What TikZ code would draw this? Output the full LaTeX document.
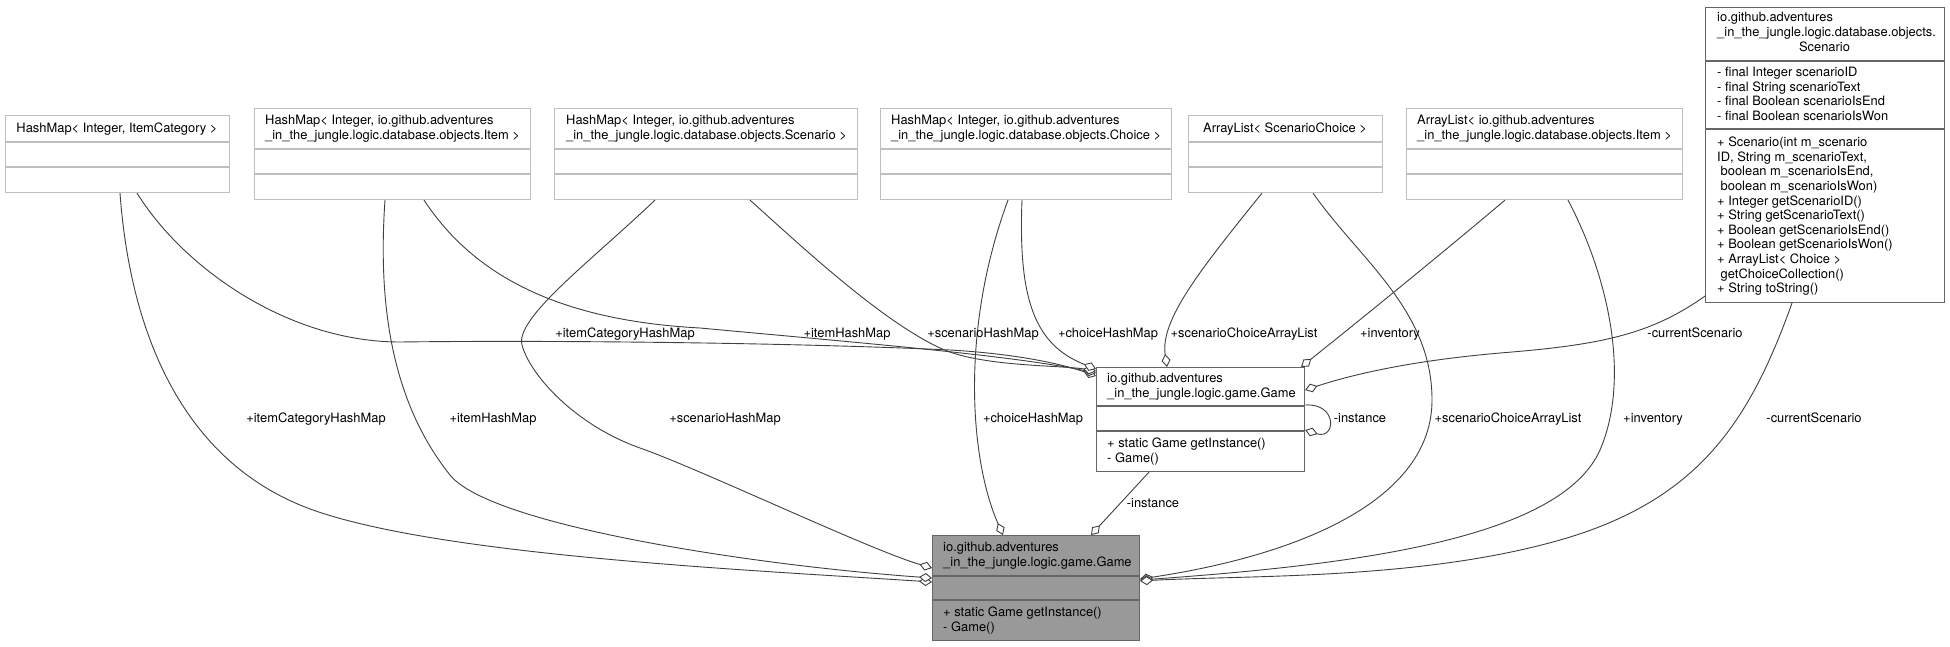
\documentclass[tikz,border=0pt]{standalone}
\usepackage{fontspec}
\setmainfont{TeX Gyre Heros}
\usetikzlibrary{arrows.meta,calc}
\definecolor{boxlight}{HTML}{BFBFBF}
\definecolor{boxdark}{HTML}{666666}
\definecolor{gamegray}{HTML}{999999}
\definecolor{edgecol}{HTML}{404040}
\newcommand{\fs}{\fontsize{12.9}{14.6}\selectfont}
\begin{document}
\begin{tikzpicture}[x=1pt,y=-1pt,
  lbox/.style={draw=boxlight, line width=1.1pt, fill=white, inner sep=0pt, anchor=north west},
  dbox/.style={draw=boxdark, line width=1.1pt, fill=white, inner sep=0pt, anchor=north west},
  gbox/.style={draw=boxdark, line width=1.1pt, fill=gamegray, inner sep=0pt, anchor=north west},
  sepl/.style={draw=boxlight, line width=1.1pt},
  sepd/.style={draw=boxdark, line width=1.1pt},
  txt/.style={font=\fs, inner sep=0pt, align=left, anchor=north west},
  btxt/.style={font=\fs, inner sep=0pt, anchor=base},
  lab/.style={font=\fs, inner sep=0pt, anchor=base},
  edge/.style={draw=edgecol, line width=0.9pt, -{Diamond[length=13pt,width=9pt,fill=white,line width=0.9pt]}},
]
\fill[white] (0,0) rectangle (1950,647);
\useasboundingbox (0,0) rectangle (1950,647);

% ---------- boxes ----------
\node[lbox, minimum width=224pt, minimum height=77pt] (A) at (5,115) {};
\draw[sepl] (5,142) -- (229,142);
\draw[sepl] (5,167) -- (229,167);
\node[btxt] (Ah) at (117,133) {HashMap< Integer, ItemCategory >};

\node[lbox, minimum width=276pt, minimum height=91pt] (B) at (254,108) {};
\draw[sepl] (254,149) -- (530,149);
\draw[sepl] (254,174) -- (530,174);
\node[txt] (Bh) at (265,114.3) {\strut HashMap< Integer, io.github.adventures\\\strut\_in\_the\_jungle.logic.database.objects.Item >};

\node[lbox, minimum width=303pt, minimum height=91pt] (C) at (554,108) {};
\draw[sepl] (554,149) -- (857,149);
\draw[sepl] (554,174) -- (857,174);
\node[txt] (Ch) at (566,114.3) {\strut HashMap< Integer, io.github.adventures\\\strut\_in\_the\_jungle.logic.database.objects.Scenario >};

\node[lbox, minimum width=291pt, minimum height=91pt] (D) at (880,108) {};
\draw[sepl] (880,149) -- (1171,149);
\draw[sepl] (880,174) -- (1171,174);
\node[txt] (Dh) at (891,114.3) {\strut HashMap< Integer, io.github.adventures\\\strut\_in\_the\_jungle.logic.database.objects.Choice >};

\node[lbox, minimum width=194pt, minimum height=77pt] (E) at (1188,115) {};
\draw[sepl] (1188,142) -- (1382,142);
\draw[sepl] (1188,167) -- (1382,167);
\node[btxt] (Eh) at (1285,133) {ArrayList< ScenarioChoice >};

\node[lbox, minimum width=276pt, minimum height=91pt] (F) at (1406,108) {};
\draw[sepl] (1406,149) -- (1682,149);
\draw[sepl] (1406,174) -- (1682,174);
\node[txt] (Fh) at (1417,114.3) {\strut ArrayList< io.github.adventures\\\strut\_in\_the\_jungle.logic.database.objects.Item >};

\node[dbox, minimum width=239pt, minimum height=295pt] (G) at (1705,7) {};
\draw[sepd] (1705,61) -- (1944,61);
\draw[sepd] (1705,129) -- (1944,129);
\node[txt] (Gh) at (1717,11.3) {\strut io.github.adventures\\\strut\_in\_the\_jungle.logic.database.objects.};
\node[btxt] (Gh3) at (1824.5,51.5) {Scenario};
\node[txt] (Ga) at (1717,66.3) {\strut - final Integer scenarioID\\\strut - final String scenarioText\\\strut - final Boolean scenarioIsEnd\\\strut - final Boolean scenarioIsWon};
\node[txt] (Gm) at (1717,136.3) {\strut + Scenario(int m\_scenario\\\strut ID, String m\_scenarioText,\\\strut\hspace*{3.5pt}boolean m\_scenarioIsEnd,\\\strut\hspace*{3.5pt}boolean m\_scenarioIsWon)\\\strut + Integer getScenarioID()\\\strut + String getScenarioText()\\\strut + Boolean getScenarioIsEnd()\\\strut + Boolean getScenarioIsWon()\\\strut + ArrayList< Choice >\\\strut\hspace*{3.5pt}getChoiceCollection()\\\strut + String toString()};

\node[dbox, minimum width=208pt, minimum height=104pt] (H) at (1096,367) {};
\draw[sepd] (1096,406) -- (1304,406);
\draw[sepd] (1096,431) -- (1304,431);
\node[txt] (Hh) at (1107,372.3) {\strut io.github.adventures\\\strut\_in\_the\_jungle.logic.game.Game};
\node[txt] (Hm) at (1107,437.3) {\strut + static Game getInstance()\\\strut - Game()};

\node[gbox, minimum width=207pt, minimum height=105pt] (I) at (932,535) {};
\draw[sepd] (932,576) -- (1139,576);
\draw[sepd] (932,600) -- (1139,600);
\node[txt] (Ih) at (943,541.3) {\strut io.github.adventures\\\strut\_in\_the\_jungle.logic.game.Game};
\node[txt] (Im) at (943,606.3) {\strut + static Game getInstance()\\\strut - Game()};

% ---------- connectors ----------
% A
\draw[edge] ($(A.south west)+(132,0)$) .. controls (185,270) and (290,342) .. (400,342) .. controls (560,340) and (800,343) .. (950,350) .. controls (1020,354) and (1065,365) .. ($(H.north west)+(0,9)$);
\draw[edge] ($(A.south west)+(115,0)$) .. controls (130,330) and (180,455) .. (300,505) .. controls (420,555) and (750,570) .. ($(I.north west)+(0,47)$);
% B
\draw[edge] ($(B.south west)+(170,0)$) .. controls (470,270) and (550,320) .. (700,328) .. controls (850,342) and (1010,355) .. ($(H.north west)+(0,6)$);
\draw[edge] ($(B.south west)+(131,0)$) .. controls (378,300) and (390,400) .. (450,475) .. controls (490,525) and (750,565) .. ($(I.north west)+(0,43)$);
% C
\draw[edge] ($(C.south west)+(196,0)$) .. controls (800,245) and (880,320) .. (940,348) .. controls (980,367) and (1060,365) .. ($(H.north west)+(0,4)$);
\draw[edge] ($(C.south west)+(101,0)$) .. controls (590,262) and (515,318) .. (522,345) .. controls (530,375) and (575,425) .. (640,448) .. controls (700,469) and (870,550) .. ($(I.north west)+(0,33)$);
% D
\draw[edge] ($(D.south west)+(142,0)$) .. controls (1018,300) and (1035,345) .. ($(H.north west)+(0,2)$);
\draw[edge] ($(D.south west)+(128,0)$) .. controls (960,330) and (970,460) .. ($(I.north west)+(71,0)$);
% E
\draw[edge] ($(E.south west)+(74,0)$) .. controls (1200,270) and (1160,320) .. ($(H.north west)+(71,0)$);
\draw[edge] ($(E.south west)+(125,0)$) .. controls (1360,260) and (1432,310) .. (1432,400) .. controls (1432,500) and (1300,555) .. ($(I.north east)+(0,44)$);
% F
\draw[edge] ($(F.south west)+(99,0)$) .. controls (1440,255) and (1360,320) .. ($(H.north east)+(-4,0)$);
\draw[edge] ($(F.south west)+(162,0)$) .. controls (1610,280) and (1630,380) .. (1600,450) .. controls (1560,540) and (1350,565) .. ($(I.north east)+(0,45)$);
% G
\draw[edge] ($(G.south west)+(0,-7)$) .. controls (1650,335) and (1600,345) .. (1500,353) .. controls (1420,360) and (1360,372) .. ($(H.north east)+(0,23)$);
\draw[edge] ($(G.south west)+(87,0)$) .. controls (1750,420) and (1700,500) .. (1560,540) .. controls (1420,580) and (1250,575) .. ($(I.north east)+(0,46)$);
% H self and H -> I
\draw[edge] ($(H.north east)+(0,38)$) .. controls (1338,403) and (1336,440) .. ($(H.north east)+(0,63)$);
\draw[edge] ($(H.south west)+(53,0)$) -- ($(I.north west)+(159,0)$);

% ---------- labels ----------
\node[lab] (u1) at (625,337.5) {+itemCategoryHashMap};
\node[lab] (u2) at (847,337.5) {+itemHashMap};
\node[lab] (u3) at (983,337.5) {+scenarioHashMap};
\node[lab] (u4) at (1108,337.5) {+choiceHashMap};
\node[lab] (u5) at (1244,337.5) {+scenarioChoiceArrayList};
\node[lab] (u6) at (1390,337.5) {+inventory};
\node[lab] (u7) at (1695,337.5) {-currentScenario};

\node[lab] (d1) at (316,422.5) {+itemCategoryHashMap};
\node[lab] (d2) at (493,422.5) {+itemHashMap};
\node[lab] (d3) at (725,422.5) {+scenarioHashMap};
\node[lab] (d4) at (1033,422.5) {+choiceHashMap};
\node[lab] (d5) at (1360,422.5) {-instance};
\node[lab] (d6) at (1508,422.5) {+scenarioChoiceArrayList};
\node[lab] (d7) at (1653,422.5) {+inventory};
\node[lab] (d8) at (1814,422.5) {-currentScenario};
\node[lab] (d9) at (1153,507.5) {-instance};
\end{tikzpicture}
\end{document}
